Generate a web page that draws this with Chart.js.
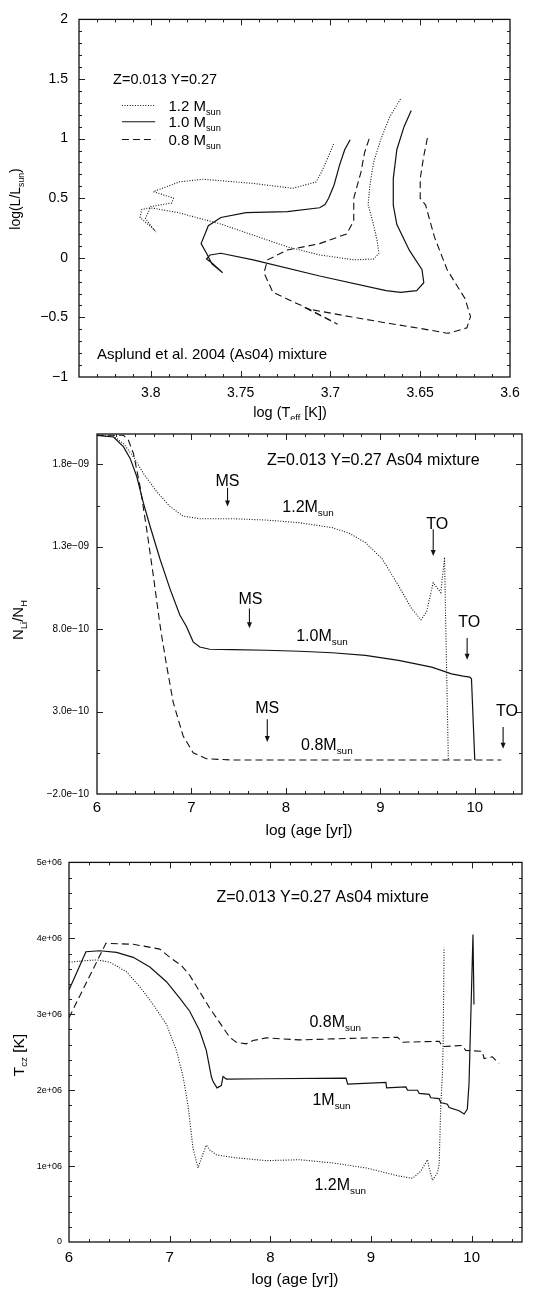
<!DOCTYPE html>
<html><head><meta charset="utf-8">
<script src="https://cdn.jsdelivr.net/npm/chart.js@4.4.1/dist/chart.umd.min.js"></script>
<style>
html,body{margin:0;padding:0;background:#fff;width:534px;height:1291px;overflow:hidden}
canvas{position:absolute;left:0;display:block}
</style></head><body>
<canvas id="c1" width="534" height="420" style="top:0"></canvas>
<canvas id="c2" width="534" height="430" style="top:420px"></canvas>
<canvas id="c3" width="534" height="441" style="top:850px"></canvas>
<script>
// ---------- Panel 1: HR diagram ----------
const hrTeff12 = [3.661,3.667,3.672,3.676,3.678,3.679,3.676,3.674,3.673,3.676,3.687,3.706,3.724,3.761,3.785,3.8003,3.805,3.806,3.7986,3.803,3.800,3.7883,3.7874,3.7986,3.784,3.771,3.743,3.721,3.708,3.705,3.701,3.698];
const hrL12    = [1.332,1.182,0.991,0.800,0.609,0.446,0.279,0.144,0.038,-0.011,-0.017,0.024,0.092,0.283,0.380,0.420,0.406,0.338,0.242,0.330,0.430,0.460,0.501,0.555,0.637,0.659,0.624,0.583,0.636,0.718,0.855,0.964];
const hrTeff10 = [3.655,3.659,3.663,3.665,3.665,3.663,3.656,3.649,3.648,3.652,3.661,3.669,3.706,3.743,3.761,3.767,3.769,3.766,3.760,3.766,3.769,3.772,3.768,3.761,3.747,3.724,3.706,3.703,3.701,3.698,3.695,3.692,3.689];
const hrL10    = [1.236,1.100,0.909,0.664,0.442,0.279,0.062,-0.100,-0.209,-0.276,-0.290,-0.276,-0.153,-0.017,0.038,0.024,-0.010,-0.044,-0.126,-0.050,0.038,0.119,0.269,0.338,0.379,0.387,0.420,0.446,0.500,0.609,0.773,0.909,0.991];
const hrTeff08 = [3.646,3.648,3.650,3.650,3.647,3.642,3.635,3.625,3.622,3.624,3.633,3.635,3.650,3.667,3.689,3.713,3.696,3.712,3.732,3.737,3.735,3.724,3.706,3.691,3.687,3.687,3.683,3.681,3.678];
const hrL08    = [1.005,0.855,0.664,0.500,0.442,0.171,-0.100,-0.344,-0.493,-0.588,-0.629,-0.633,-0.592,-0.551,-0.494,-0.428,-0.557,-0.430,-0.290,-0.126,-0.017,0.065,0.119,0.200,0.310,0.500,0.718,0.882,1.018];
const hrXTicks = [3.8,3.75,3.7,3.65,3.6];
const hrYTicks = [-1,-0.5,0,0.5,1,1.5,2];

// ---------- Panel 2: Li abundance ----------
const liAge12 = [6.0,6.175,6.28,6.386,6.49,6.63,6.77,6.91,7.09,7.44,7.79,8.14,8.49,8.67,8.84,9.02,9.19,9.33,9.43,9.49,9.56,9.64,9.68,9.69,9.72];
const liVal12 = [1.976e-9,1.97e-9,1.926e-9,1.846e-9,1.746e-9,1.636e-9,1.546e-9,1.486e-9,1.47e-9,1.47e-9,1.462e-9,1.446e-9,1.416e-9,1.382e-9,1.326e-9,1.226e-9,1.066e-9,0.926e-9,0.856e-9,0.906e-9,1.082e-9,1.022e-9,1.236e-9,0.9e-9,0.005e-9];
const liAge10 = [6.0,6.175,6.281,6.351,6.421,6.491,6.561,6.667,6.772,6.877,6.947,7.018,7.088,7.193,7.439,7.789,8.14,8.491,8.842,9.193,9.544,9.754,9.877,9.947,9.965,10.0];
const liVal10 = [1.976e-9,1.966e-9,1.906e-9,1.836e-9,1.726e-9,1.566e-9,1.426e-9,1.226e-9,1.046e-9,0.886e-9,0.816e-9,0.723e-9,0.692e-9,0.678e-9,0.676e-9,0.672e-9,0.666e-9,0.657e-9,0.641e-9,0.611e-9,0.570e-9,0.529e-9,0.515e-9,0.509e-9,0.499e-9,0.006e-9];
const liAge08 = [6.0,6.281,6.333,6.386,6.456,6.526,6.596,6.667,6.684,6.737,6.807,6.912,7.018,7.158,7.439,10.28];
const liVal08 = [1.976e-9,1.976e-9,1.946e-9,1.866e-9,1.666e-9,1.406e-9,1.126e-9,0.826e-9,0.763e-9,0.58e-9,0.356e-9,0.152e-9,0.05e-9,0.014e-9,0.006e-9,0.006e-9];
const ageTicks = [6,7,8,9,10];
const liYTicks = [-2e-10,3e-10,8e-10,1.3e-9,1.8e-9];

// ---------- Panel 3: T at base of convective zone ----------
const tcAge08 = [6.0,6.367,6.638,6.902,7.001,7.117,7.199,7.298,7.397,7.497,7.596,7.662,7.761,7.827,7.959,8.289,8.62,8.95,9.264,9.314,9.677,9.71,9.908,9.941,10.106,10.123,10.206,10.272];
const tcVal08 = [2.955e6,3.935e6,3.922e6,3.858e6,3.750e6,3.642e6,3.513e6,3.298e6,3.083e6,2.89e6,2.696e6,2.631e6,2.610e6,2.653e6,2.688e6,2.662e6,2.675e6,2.688e6,2.696e6,2.631e6,2.644e6,2.575e6,2.588e6,2.524e6,2.511e6,2.417e6,2.439e6,2.352e6];
const tcAge10 = [6.0,6.168,6.307,6.472,6.638,6.803,6.968,7.1,7.199,7.298,7.364,7.414,7.43,7.47,7.513,7.53,7.563,7.959,8.752,8.768,9.148,9.155,9.347,9.363,9.462,9.479,9.578,9.594,9.677,9.693,9.759,9.776,9.875,9.925,9.957,9.974,10.013,10.023];
const tcVal10 = [3.320e6,3.823e6,3.836e6,3.815e6,3.750e6,3.621e6,3.428e6,3.212e6,3.040e6,2.782e6,2.524e6,2.180e6,2.116e6,2.030e6,2.060e6,2.180e6,2.146e6,2.150e6,2.159e6,2.081e6,2.103e6,2.030e6,2.043e6,1.999e6,1.999e6,1.957e6,1.944e6,1.900e6,1.888e6,1.836e6,1.815e6,1.772e6,1.729e6,1.686e6,1.750e6,2.094e6,4.051e6,3.127e6];
const tcAge12 = [6.0,6.175,6.274,6.406,6.572,6.704,6.836,6.968,7.067,7.133,7.183,7.232,7.282,7.315,7.364,7.397,7.464,7.629,7.959,8.289,8.62,8.95,9.28,9.413,9.495,9.561,9.578,9.611,9.66,9.677,9.693,9.71,9.717,9.726];
const tcVal12 = [3.686e6,3.707e6,3.716e6,3.686e6,3.557e6,3.363e6,3.127e6,2.869e6,2.524e6,2.180e6,1.793e6,1.234e6,0.976e6,1.105e6,1.277e6,1.213e6,1.148e6,1.114e6,1.071e6,1.084e6,1.041e6,0.976e6,0.868e6,0.839e6,0.933e6,1.084e6,0.976e6,0.813e6,0.912e6,1.019e6,1.793e6,2.223e6,2.653e6,3.879e6];
const tcYTicks = [0,1e6,2e6,3e6,4e6,5e6];

// ---------- helpers ----------
const FONT = '"Liberation Sans", Arial, Helvetica, sans-serif';
const zip = (xs, ys) => xs.map((x, i) => ({x, y: ys[i]}));
const range = (a, b, s) => { const r = []; const n = Math.round((b - a) / s); for (let i = 0; i <= n; i++) r.push(a + i * s); return r; };
const DOT = {dash: [1, 1.6], width: 1.1};
const SOLID = {dash: [], width: 1.2};
const DASH = {dash: [7, 4], width: 1.1};
const LINECOL = '#111';

function ds(data, st) {
  return {data, showLine: true, pointRadius: 0, borderColor: LINECOL, borderWidth: st.width, borderDash: st.dash, fill: false, tension: 0};
}

function drawRich(ctx, x, y, parts, size, align) {
  const sub = size * 0.62;
  let total = 0;
  for (const [t, s] of parts) { ctx.font = (s ? sub : size) + 'px ' + FONT; total += ctx.measureText(t).width; }
  let cx = align === 'center' ? x - total / 2 : (align === 'right' ? x - total : x);
  ctx.textAlign = 'left'; ctx.textBaseline = 'alphabetic'; ctx.fillStyle = '#000';
  for (const [t, s] of parts) {
    ctx.font = (s ? sub : size) + 'px ' + FONT;
    ctx.fillText(t, cx, s ? y + size * 0.25 : y);
    cx += ctx.measureText(t).width;
  }
}

const decoPlugin = {
  id: 'deco',
  afterDatasetsDraw(chart, args, o) {
    const {ctx, chartArea: a, scales: {x: xs, y: ys}} = chart;
    ctx.save();
    ctx.strokeStyle = '#222'; ctx.lineWidth = 1;
    const tx = (vals, len) => vals.forEach(v => {
      const p = Math.round(xs.getPixelForValue(v)) + 0.5;
      if (p < a.left + 1 || p > a.right - 1) return;
      ctx.beginPath(); ctx.moveTo(p, a.bottom); ctx.lineTo(p, a.bottom - len);
      ctx.moveTo(p, a.top); ctx.lineTo(p, a.top + len); ctx.stroke();
    });
    const ty = (vals, len) => vals.forEach(v => {
      const p = Math.round(ys.getPixelForValue(v)) + 0.5;
      if (p < a.top + 1 || p > a.bottom - 1) return;
      ctx.beginPath(); ctx.moveTo(a.left, p); ctx.lineTo(a.left + len, p);
      ctx.moveTo(a.right, p); ctx.lineTo(a.right - len, p); ctx.stroke();
    });
    tx(o.xMinor, 3); tx(o.xMajor, 6); ty(o.yMinor, 3); ty(o.yMajor, 6);
    ctx.lineWidth = 1.3; ctx.strokeStyle = '#111';
    ctx.strokeRect(a.left, a.top, a.right - a.left, a.bottom - a.top);
    (o.texts || []).forEach(t => {
      drawRich(ctx, xs.getPixelForValue(t.x), ys.getPixelForValue(t.y) + t.size * 0.36, t.parts, t.size, t.align || 'left');
    });
    (o.arrows || []).forEach(r => {
      const px = xs.getPixelForValue(r.x), p1 = ys.getPixelForValue(r.y1), p2 = ys.getPixelForValue(r.y2);
      ctx.strokeStyle = '#111'; ctx.fillStyle = '#111'; ctx.lineWidth = 1.1;
      ctx.beginPath(); ctx.moveTo(px, p1); ctx.lineTo(px, p2 - 4); ctx.stroke();
      ctx.beginPath(); ctx.moveTo(px - 2.5, p2 - 6); ctx.lineTo(px + 2.5, p2 - 6); ctx.lineTo(px, p2); ctx.closePath(); ctx.fill();
    });
    (o.legend || []).forEach(l => {
      const y = ys.getPixelForValue(l.y);
      ctx.strokeStyle = LINECOL; ctx.lineWidth = l.st.width; ctx.setLineDash(l.st.dash);
      ctx.beginPath(); ctx.moveTo(xs.getPixelForValue(l.x1), y); ctx.lineTo(xs.getPixelForValue(l.x2), y); ctx.stroke();
      ctx.setLineDash([]);
      drawRich(ctx, xs.getPixelForValue(l.tx), y + l.size * 0.36, l.parts, l.size, 'left');
    });
    (o.titles || []).forEach(t => {
      ctx.save(); ctx.translate(t.px, t.py);
      if (t.rot) ctx.rotate(-Math.PI / 2);
      drawRich(ctx, 0, t.size * 0.36, t.parts, t.size, 'center');
      ctx.restore();
    });
    ctx.restore();
  }
};

function axis(cfg) {
  return {
    type: 'linear', min: cfg.min, max: cfg.max, reverse: !!cfg.reverse,
    afterBuildTicks: s => { s.ticks = cfg.ticks.map(v => ({value: v})); },
    afterFit: s => { if (cfg.w !== undefined) s.width = cfg.w; if (cfg.h !== undefined) s.height = cfg.h; },
    grid: {display: false, drawTicks: false},
    border: {display: false},
    ticks: {color: '#000', font: {family: FONT, size: cfg.fs}, padding: cfg.pad, maxRotation: 0, autoSkip: false, includeBounds: false, callback: cfg.fmt}
  };
}

function makeChart(id, datasets, xAx, yAx, pad, deco) {
  return new Chart(document.getElementById(id), {
    type: 'scatter',
    data: {datasets},
    options: {
      responsive: false, animation: false, devicePixelRatio: 1, events: [],
      layout: {padding: pad, autoPadding: false},
      plugins: {legend: {display: false}, tooltip: {enabled: false}, deco},
      scales: {x: xAx, y: yAx}
    },
    plugins: [decoPlugin]
  });
}

const minus = v => String(v).replace('-', '\u2212');
const expFmt = v => {
  const [m, e] = v.toExponential(1).split('e');
  const n = parseInt(e, 10);
  return m.replace('-', '\u2212') + 'e' + (n < 0 ? '\u2212' : '+') + String(Math.abs(n)).padStart(2, '0');
};
const tFmt = v => v === 0 ? '0' : Math.round(v / 1e6) + 'e+06';

// ---------- Chart 1 ----------
makeChart('c1',
  [ds(zip(hrTeff12, hrL12), DOT), ds(zip(hrTeff10, hrL10), SOLID), ds(zip(hrTeff08, hrL08), DASH)],
  axis({min: 3.6, max: 3.84, reverse: true, ticks: hrXTicks, fs: 14, pad: 8, fmt: minus, h: 43}),
  axis({min: -1, max: 2, ticks: hrYTicks, fs: 14, pad: 11, fmt: minus, w: 79}),
  {left: 0, top: 10, right: 24, bottom: 0},
  {
    xMajor: hrXTicks, xMinor: range(3.6, 3.84, 0.01), yMajor: hrYTicks, yMinor: range(-1, 2, 0.1),
    texts: [
      {x: 3.821, y: 1.50, parts: [['Z=0.013 Y=0.27', 0]], size: 14.5},
      {x: 3.830, y: -0.805, parts: [['Asplund et al. 2004 (As04) mixture', 0]], size: 15}
    ],
    legend: [
      {x1: 3.8161, x2: 3.7976, tx: 3.7902, y: 1.278, st: DOT, size: 15, parts: [['1.2 M', 0], ['sun', 1]]},
      {x1: 3.8161, x2: 3.7976, tx: 3.7902, y: 1.1415, st: SOLID, size: 15, parts: [['1.0 M', 0], ['sun', 1]]},
      {x1: 3.8161, x2: 3.7976, tx: 3.7902, y: 0.992, st: DASH, size: 15, parts: [['0.8 M', 0], ['sun', 1]]}
    ],
    titles: [
      {px: 290, py: 412, size: 14.5, parts: [['log (T', 0], ['eff', 1], [' [K])', 0]]},
      {px: 15, py: 199, size: 14, rot: true, parts: [['log(L/L', 0], ['sun', 1], [')', 0]]}
    ]
  });

// ---------- Chart 2 ----------
makeChart('c2',
  [ds(zip(liAge12, liVal12), DOT), ds(zip(liAge10, liVal10), SOLID), ds(zip(liAge08, liVal08), DASH)],
  axis({min: 6, max: 10.5, ticks: ageTicks, fs: 15, pad: 5, fmt: v => String(v), h: 56}),
  axis({min: -2e-10, max: 1.984e-9, ticks: liYTicks, fs: 10, pad: 8, fmt: expFmt, w: 97}),
  {left: 0, top: 14, right: 12, bottom: 0},
  {
    xMajor: ageTicks, xMinor: range(6, 10.4, 0.2), yMajor: liYTicks, yMinor: range(-2e-10, 1.8e-9, 2.5e-10),
    texts: [
      {x: 7.80, y: 1.832e-9, parts: [['Z=0.013 Y=0.27 As04 mixture', 0]], size: 16},
      {x: 7.382, y: 1.706e-9, parts: [['MS', 0]], size: 16, align: 'center'},
      {x: 7.962, y: 1.544e-9, parts: [['1.2M', 0], ['sun', 1]], size: 16},
      {x: 9.603, y: 1.442e-9, parts: [['TO', 0]], size: 16, align: 'center'},
      {x: 7.624, y: 0.986e-9, parts: [['MS', 0]], size: 16, align: 'center'},
      {x: 8.109, y: 0.764e-9, parts: [['1.0M', 0], ['sun', 1]], size: 16},
      {x: 9.94, y: 0.848e-9, parts: [['TO', 0]], size: 16, align: 'center'},
      {x: 7.803, y: 0.326e-9, parts: [['MS', 0]], size: 16, align: 'center'},
      {x: 8.161, y: 0.104e-9, parts: [['0.8M', 0], ['sun', 1]], size: 16},
      {x: 10.341, y: 0.308e-9, parts: [['TO', 0]], size: 16, align: 'center'}
    ],
    arrows: [
      {x: 7.382, y1: 1.658e-9, y2: 1.544e-9},
      {x: 9.56, y1: 1.406e-9, y2: 1.244e-9},
      {x: 7.614, y1: 0.926e-9, y2: 0.806e-9},
      {x: 9.919, y1: 0.746e-9, y2: 0.614e-9},
      {x: 7.803, y1: 0.254e-9, y2: 0.116e-9},
      {x: 10.30, y1: 0.206e-9, y2: 0.074e-9}
    ],
    titles: [
      {px: 309, py: 409, size: 15.5, parts: [['log (age [yr])', 0]]},
      {px: 18, py: 200, size: 15, rot: true, parts: [['N', 0], ['Li', 1], ['/N', 0], ['H', 1]]}
    ]
  });

// ---------- Chart 3 ----------
makeChart('c3',
  [ds(zip(tcAge12, tcVal12), DOT), ds(zip(tcAge10, tcVal10), SOLID), ds(zip(tcAge08, tcVal08), DASH)],
  axis({min: 6, max: 10.5, ticks: ageTicks, fs: 15, pad: 7, fmt: v => String(v), h: 49}),
  axis({min: 0, max: 5e6, ticks: tcYTicks, fs: 9, pad: 7, fmt: tFmt, w: 69}),
  {left: 0, top: 6, right: 12, bottom: 0},
  {
    xMajor: ageTicks, xMinor: range(6, 10.4, 0.2), yMajor: tcYTicks, yMinor: range(0, 5e6, 2e5),
    texts: [
      {x: 7.464, y: 4.559e6, parts: [['Z=0.013 Y=0.27 As04 mixture', 0]], size: 16},
      {x: 8.388, y: 2.911e6, parts: [['0.8M', 0], ['sun', 1]], size: 16},
      {x: 8.418, y: 1.879e6, parts: [['1M', 0], ['sun', 1]], size: 16},
      {x: 8.438, y: 0.765e6, parts: [['1.2M', 0], ['sun', 1]], size: 16}
    ],
    titles: [
      {px: 295, py: 428, size: 15.5, parts: [['log (age [yr])', 0]]},
      {px: 18, py: 205, size: 15.5, rot: true, parts: [['T', 0], ['cz', 1], [' [K]', 0]]}
    ]
  });
</script>
</body></html>
